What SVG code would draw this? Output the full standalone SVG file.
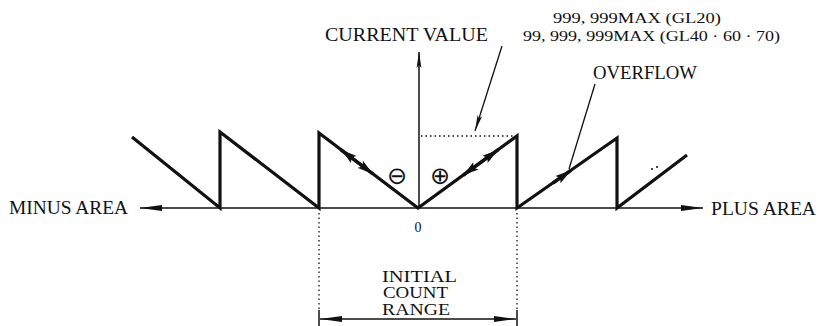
<svg xmlns="http://www.w3.org/2000/svg" width="821" height="326" viewBox="0 0 821 326">
<style>
.t{font-family:"Liberation Serif","Times New Roman",serif;font-size:19px;fill:#111}
.s{font-size:15px}
.m{font-size:16px}
.sym{font-family:"DejaVu Sans",sans-serif;font-size:24px;fill:#111}
.saw{fill:none;stroke:#111;stroke-width:3.2;stroke-linejoin:miter}
.thin{fill:none;stroke:#111;stroke-width:1.5}
.dot{fill:none;stroke:#111;stroke-width:1.3;stroke-dasharray:1.5 3}
.dbl{fill:none;stroke:#111;stroke-width:3.4}
</style>
<defs>
<marker id="ah" viewBox="0 0 16 6" refX="16" refY="3" markerWidth="16" markerHeight="6" orient="auto-start-reverse" markerUnits="userSpaceOnUse">
<path d="M0,0.6 L16,3 L0,5.4 L3,3 z" fill="#111"/>
</marker>
<marker id="ahd" viewBox="0 0 16 9" refX="16" refY="4.5" markerWidth="16" markerHeight="9" orient="auto-start-reverse" markerUnits="userSpaceOnUse">
<path d="M0,0 L16,4.5 L0,9 L3,4.5 z" fill="#111"/>
</marker>
<marker id="ahl" viewBox="0 0 22 7" refX="22" refY="3.5" markerWidth="22" markerHeight="7" orient="auto-start-reverse" markerUnits="userSpaceOnUse">
<path d="M0,0.5 L22,3.5 L0,6.5 z" fill="#111"/>
</marker>
</defs>

<g id="connectors">
<line class="thin" x1="140" y1="208" x2="703" y2="208" marker-start="url(#ahl)" marker-end="url(#ahl)"/>
<line class="thin" x1="419" y1="208" x2="419" y2="52" marker-end="url(#ah)"/>
<polyline class="saw" points="132,137 220,208 220,132 319,208 319,133 418,208 517,136 517,208 617,138 617,208 687,155"/>
<line class="dbl" x1="341" y1="149.8" x2="373" y2="174" marker-start="url(#ahd)" marker-end="url(#ahd)"/>
<line class="dbl" x1="463" y1="175.3" x2="498" y2="149.9" marker-start="url(#ahd)" marker-end="url(#ahd)"/>
<line class="dbl" x1="553" y1="183" x2="571" y2="170.4" marker-end="url(#ahd)"/>
<line class="dot" x1="421" y1="136" x2="514" y2="136"/>
<line class="thin" x1="502" y1="46" x2="475" y2="131" marker-end="url(#ah)" style="stroke-width:1.3"/>
<line class="thin" x1="595" y1="84" x2="569" y2="169" style="stroke-width:1.3"/>
<line class="dot" x1="319" y1="213" x2="319" y2="310"/>
<line class="dot" x1="517" y1="213" x2="517" y2="310"/>
<line class="thin" x1="319" y1="310" x2="319" y2="326"/>
<line class="thin" x1="517" y1="310" x2="517" y2="326"/>
<line class="thin" x1="320" y1="319" x2="516" y2="319" marker-start="url(#ahl)" marker-end="url(#ahl)"/>
<circle cx="652" cy="169" r="1" fill="#111"/>
<circle cx="657" cy="167" r="1" fill="#111"/>
</g>

<g id="current-value"><text class="t" x="325" y="41" textLength="163" lengthAdjust="spacingAndGlyphs">CURRENT VALUE</text></g>
<g id="max-label">
<text class="t s" x="553" y="23" textLength="168" lengthAdjust="spacingAndGlyphs">999, 999MAX (GL20)</text>
<text class="t s" x="523" y="41" textLength="257" lengthAdjust="spacingAndGlyphs">99, 999, 999MAX (GL40 · 60 · 70)</text>
</g>
<g id="overflow"><text class="t" x="593" y="79" textLength="104" lengthAdjust="spacingAndGlyphs">OVERFLOW</text></g>
<g id="minus-area"><text class="t" x="9" y="214" textLength="119" lengthAdjust="spacingAndGlyphs">MINUS AREA</text></g>
<g id="plus-area"><text class="t" x="711" y="215" textLength="105" lengthAdjust="spacingAndGlyphs">PLUS AREA</text></g>
<g id="zero"><text class="t" x="418" y="232" text-anchor="middle" style="font-size:14px">0</text></g>
<g id="minus-sign"><text class="sym" x="397" y="184" text-anchor="middle">⊖</text></g>
<g id="plus-sign"><text class="sym" x="440" y="184" text-anchor="middle">⊕</text></g>
<g id="initial-count-range">
<text class="t m" x="382" y="282" textLength="75" lengthAdjust="spacingAndGlyphs">INITIAL</text>
<text class="t m" x="383" y="298" textLength="65" lengthAdjust="spacingAndGlyphs">COUNT</text>
<text class="t m" x="382" y="315" textLength="68" lengthAdjust="spacingAndGlyphs">RANGE</text>
</g>
</svg>
